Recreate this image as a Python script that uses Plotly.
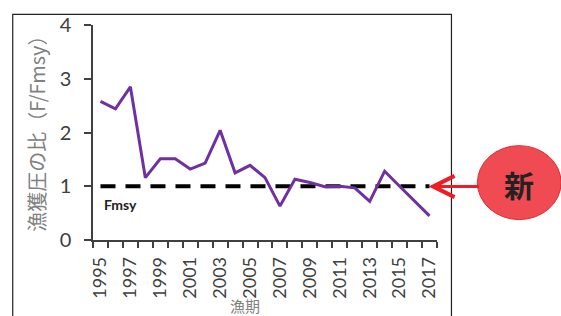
import plotly.graph_objects as go

years = list(range(1995, 2018))
f_ratio = [2.58, 2.44, 2.85, 1.16, 1.51, 1.51, 1.32, 1.43, 2.04, 1.25, 1.39, 1.16,
           0.63, 1.13, 1.07, 0.99, 1.00, 0.97, 0.72, 1.28, 1.00, 0.73, 0.45]
fmsy_line = [1.0] * len(years)
y_ticks = [0, 1, 2, 3, 4]
x_tick_labels = [str(y) for y in range(1995, 2018, 2)]

W, H = 561, 316
L, R, T, B = 92.5, 437.5, 19, 240
pw, ph = R - L, B - T


def px(x):
    return (x - L) / pw


def py(y):
    return (B - y) / ph


fig = go.Figure()
fig.add_trace(go.Scatter(x=years, y=fmsy_line, mode="lines",
                         line=dict(color="black", width=4, dash="15px,10px"),
                         showlegend=False, hoverinfo="skip"))
fig.add_trace(go.Scatter(x=years, y=f_ratio, mode="lines",
                         line=dict(color="#7030A0", width=3),
                         showlegend=False))

fig.update_layout(
    width=W, height=H,
    margin=dict(l=L, r=W - R, t=T, b=H - B, pad=0),
    paper_bgcolor="white", plot_bgcolor="white",
    font=dict(family="Lato, 'Noto Sans CJK JP'", color="#404040"),
    xaxis=dict(range=[1994.5, 2017.5], tickmode="array",
               tickvals=list(range(1995, 2018, 2)), ticktext=x_tick_labels,
               tickangle=-90, tickfont=dict(size=18, color="#404040"),
               ticks="", showgrid=False, zeroline=False,
               showline=True, linecolor="#404040", linewidth=1.5,
               ticklabelstandoff=8,
               minor=dict(tick0=1994.5, dtick=1, ticks="outside", ticklen=6,
                          tickcolor="#404040", tickwidth=1.5, showgrid=False)),
    yaxis=dict(range=[0, 4], tickvals=y_ticks, ticks="outside", ticklen=7,
               tickcolor="#404040", tickwidth=1.5,
               tickfont=dict(size=20, color="#404040"), showgrid=False,
               zeroline=False, showline=True, linecolor="#404040", linewidth=1.5,
               ticklabelstandoff=9),
)

# outer border
fig.add_shape(type="rect", xref="paper", yref="paper",
              x0=px(12), x1=px(452), y0=py(330), y1=py(8),
              line=dict(color="#222222", width=1.2), fillcolor="rgba(0,0,0,0)")

# red ellipse
fig.add_shape(type="circle", xref="paper", yref="paper",
              x0=px(478), x1=px(562), y0=py(219), y1=py(143),
              line=dict(color="#E02A30", width=1), fillcolor="#F04A52", layer="above")

annotations = [
    dict(text="漁獲圧の比（F/Fmsy）", x=px(35), y=py(126), xref="paper", yref="paper",
         textangle=-90, showarrow=False, xanchor="center", yanchor="middle",
         font=dict(family="'Noto Sans CJK JP'", size=20, color="#808080")),
    dict(text="漁期", x=px(245), y=py(307), xref="paper", yref="paper",
         showarrow=False, xanchor="center", yanchor="middle",
         font=dict(family="'Noto Sans CJK JP'", size=15, color="#808080")),
    dict(text="<b>Fmsy</b>", x=px(102), y=py(204), xref="paper", yref="paper",
         showarrow=False, xanchor="left", yanchor="middle",
         font=dict(family="Lato", size=14, color="#222222")),
    dict(text="", x=px(429), y=py(185), xref="paper", yref="paper",
         showarrow=True, ax=52, ay=0, axref="pixel", ayref="pixel",
         arrowhead=5, arrowsize=1.4, arrowwidth=3, arrowcolor="#EE1C25"),
    dict(text="<b>新</b>", x=px(520), y=py(182), xref="paper", yref="paper",
         showarrow=False, xanchor="center", yanchor="middle",
         font=dict(family="'Noto Sans CJK JP'", size=30, color="#222222")),
]
fig.update_layout(annotations=annotations)

fig.write_html("out.html", config={"displayModeBar": False},
               post_script="document.body.style.margin='0';")
